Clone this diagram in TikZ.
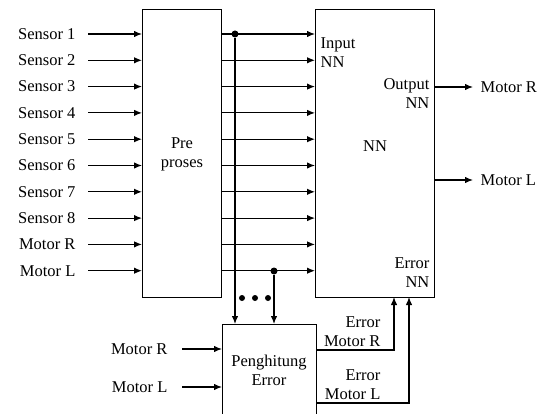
\documentclass[tikz,border=0pt]{standalone}
\usepackage{fontspec}
\setmainfont{Liberation Serif}[Ligatures=TeX]
\usetikzlibrary{arrows.meta}
\begin{document}
\begin{tikzpicture}[x=1pt,y=-1pt, line width=1.2pt,
  arr/.style={-{Latex[length=8pt,width=6.5pt]}},
  lbl/.style={font=\rmfamily\fontsize{16.5}{19}\selectfont, inner sep=0pt},
  blk/.style={draw, line width=1.4pt, inner sep=0pt},
  dot/.style={circle, fill, inner sep=0pt, minimum size=7pt}]
\useasboundingbox (0,0) rectangle (548,414);
\clip (0,0) rectangle (548,414);
% blocks
\node[blk, minimum width=79pt, minimum height=288pt, anchor=north west] (pre) at (142,9) {};
\node[blk, minimum width=119pt, minimum height=288pt, anchor=north west] (nn) at (315,9) {};
\node[blk, minimum width=94pt, minimum height=100pt, anchor=north west] (err) at (222,324) {};
% block texts
\node[lbl, align=center] (pretxt) at (182,154) {Pre\\proses};
\node[lbl] (nntxt) at (375,146) {NN};
\node[lbl, align=center] (errtxt) at (269,370) {Penghitung\\Error};
\node[lbl, align=left, anchor=north west] (innn) at (320,37) {Input\\NN};
\node[lbl, align=right, anchor=north east] (outnn) at (430,78) {Output\\NN};
\node[lbl, align=right, anchor=north east] (errnn) at (430,257) {Error\\NN};
% rows
\foreach \i/\t in {0/Sensor 1,1/Sensor 2,2/Sensor 3,3/Sensor 4,4/Sensor 5,5/Sensor 6,6/Sensor 7,7/Sensor 8,8/Motor R,9/Motor L}{
  \pgfmathsetmacro{\yy}{34+26.3*\i}
  \node[lbl, anchor=east] (in\i) at (76,\yy) {\t};
  \coordinate (s\i) at (88,\yy);
  \coordinate (p\i) at (pre.east |- s\i);
  \coordinate (q\i) at (nn.west |- s\i);
  \draw[arr] (s\i) -- (pre.west |- s\i);
  \draw[arr] (p\i) -- (q\i);
}
% taps
\node[dot] (d1) at (235,34) {};
\node[dot] (d2) at (274,271) {};
\draw[arr] (d1) -- (d1 |- err.north);
\draw[arr] (d2) -- (d2 |- err.north);
\foreach \x in {242,255,268}{\fill (\x,298) circle (3pt);}
% outputs
\coordinate (o1) at (nn.east |- 0,87);
\coordinate (o2) at (nn.east |- 0,180);
\node[lbl, anchor=west] (mr) at (480,87) {Motor R};
\node[lbl, anchor=west] (ml) at (480,180) {Motor L};
\draw[arr] (o1) -- (mr.west -| 473,0);
\draw[arr] (o2) -- (ml.west -| 473,0);
% error block inputs
\node[lbl, anchor=east] (emr) at (168,349) {Motor R};
\node[lbl, anchor=east] (eml) at (168,387) {Motor L};
\draw[arr] (182,349) -- (err.west |- 0,349);
\draw[arr] (182,387) -- (err.west |- 0,387);
% error outputs
\draw[arr] (err.east |- 0,350) -- (394,350) -- (394,297);
\draw[arr] (err.east |- 0,403) -- (409,403) -- (409,297);
\node[lbl, align=right, anchor=east] (eo1) at (381,332) {Error\\Motor R};
\node[lbl, align=right, anchor=east] (eo2) at (381,385) {Error\\Motor L};
\end{tikzpicture}
\end{document}
